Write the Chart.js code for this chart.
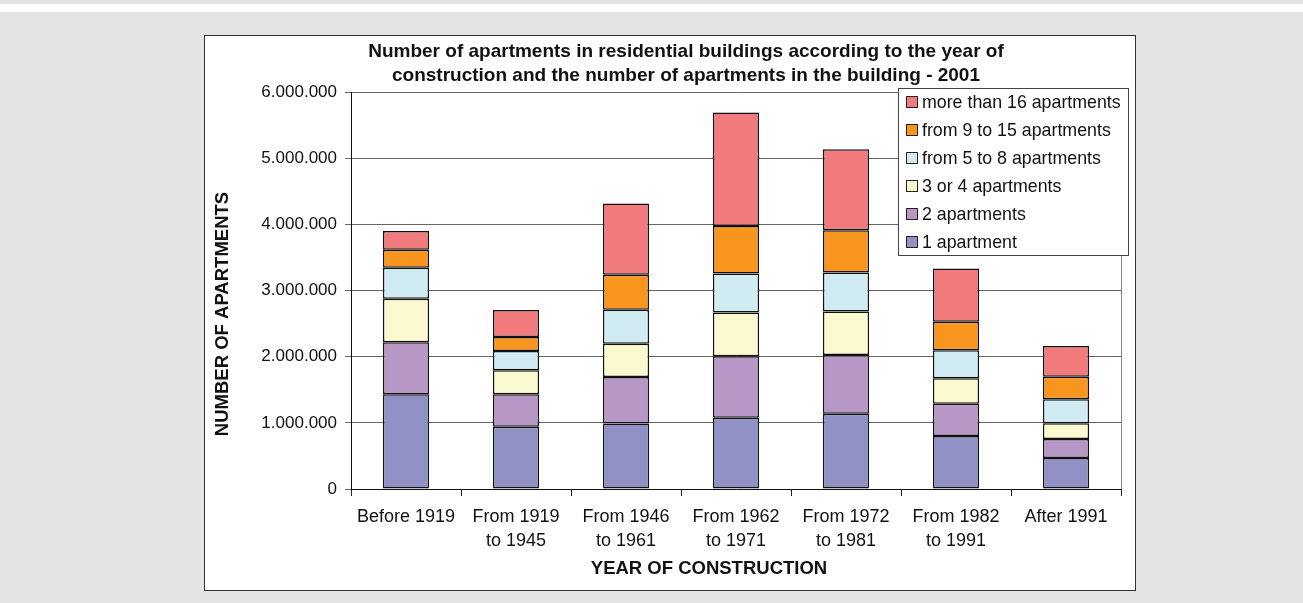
<!DOCTYPE html>
<html>
<head>
<meta charset="utf-8">
<script src="https://cdn.jsdelivr.net/npm/chart.js@4"></script>
<style>
  html, body { margin: 0; padding: 0; }
  body { width: 1303px; height: 603px; background: #e4e4e4; position: relative; overflow: hidden; }
  .strip { position: absolute; left: 0; top: 4px; width: 1303px; height: 8px; background: #fff; }
  .frame { position: absolute; left: 204px; top: 35px; width: 930px; height: 554px; background: #fff; border: 1px solid #333; }
  #apartmentsChart { position: absolute; left: 0; top: 0; }
</style>
</head>
<body>
<div class="strip"></div>
<div class="frame"></div>
<canvas id="apartmentsChart" width="1303" height="603"></canvas>
<script>
// periods of construction
const periods = [
  'Before 1919',
  ['From 1919', 'to 1945'],
  ['From 1946', 'to 1961'],
  ['From 1962', 'to 1971'],
  ['From 1972', 'to 1981'],
  ['From 1982', 'to 1991'],
  'After 1991'
];

// apartments by size of the building
const oneApartment    = [1433000,  942000,  991000, 1076000, 1136000,  802000, 469000];
const twoApartments   = [ 786000,  491000,  701000,  930000,  890000,  487000, 286000];
const threeOrFour     = [ 658000,  360000,  505000,  661000,  656000,  385000, 240000];
const fiveToEight     = [ 466000,  294000,  511000,  591000,  591000,  422000, 360000];
const nineToFifteen   = [ 274000,  212000,  530000,  718000,  636000,  431000, 341000];
const moreThanSixteen = [ 283000,  406000, 1076000, 1716000, 1227000,  806000, 465000];

const yTicks = [0, 1000000, 2000000, 3000000, 4000000, 5000000, 6000000];

const chartTitle = [
  'Number of apartments in residential buildings according to the year of',
  'construction and the number of apartments in the building - 2001'
];
const xTitle = 'YEAR OF CONSTRUCTION';
const yTitle = 'NUMBER OF APARTMENTS';

const FONT = "'Liberation Sans', Arial, sans-serif";

function dotted(n) {
  return String(n).replace(/\B(?=(\d{3})+(?!\d))/g, '.');
}

// main title and both axis titles
const titles = {
  id: 'titles',
  afterDraw(chart) {
    const ctx = chart.ctx;
    ctx.save();
    ctx.fillStyle = '#111';
    ctx.textAlign = 'center';
    ctx.textBaseline = 'middle';
    ctx.font = 'bold 19px ' + FONT;
    chartTitle.forEach((line, i) => ctx.fillText(line, 686, 52 + i * 24));
    ctx.font = 'bold 18.5px ' + FONT;
    ctx.fillText(xTitle, 709, 569);
    ctx.translate(223, 314);
    ctx.rotate(-Math.PI / 2);
    ctx.fillText(yTitle, 0, 0);
    ctx.restore();
  }
};

// legend drawn inside the plot, top right, last series first
const boxLegend = {
  id: 'boxLegend',
  afterDraw(chart) {
    const ctx = chart.ctx;
    const x = 898.5, y = 88.5, w = 230, h = 167;
    ctx.save();
    ctx.fillStyle = '#fff';
    ctx.fillRect(x, y, w, h);
    ctx.strokeStyle = '#444';
    ctx.lineWidth = 1;
    ctx.strokeRect(x, y, w, h);
    ctx.font = '17.8px ' + FONT;
    ctx.textBaseline = 'middle';
    const sets = chart.data.datasets.slice().reverse();
    sets.forEach((ds, i) => {
      const cy = 102 + i * 28;
      ctx.fillStyle = ds.backgroundColor;
      ctx.fillRect(906.5, cy - 5.5, 11, 11);
      ctx.strokeStyle = '#222';
      ctx.strokeRect(906.5, cy - 5.5, 11, 11);
      ctx.fillStyle = '#111';
      ctx.fillText(ds.label, 922, cy + 1);
    });
    ctx.restore();
  }
};

// thin border on the right side of the plot
const plotEdge = {
  id: 'plotEdge',
  beforeDatasetsDraw(chart) {
    const { ctx, chartArea } = chart;
    ctx.save();
    ctx.strokeStyle = '#888';
    ctx.lineWidth = 1;
    ctx.beginPath();
    ctx.moveTo(Math.round(chartArea.right) + 0.5, chartArea.top);
    ctx.lineTo(Math.round(chartArea.right) + 0.5, chartArea.bottom);
    ctx.stroke();
    ctx.restore();
  }
};

function series(label, data, color) {
  return {
    label: label,
    data: data,
    backgroundColor: color,
    borderColor: '#111',
    borderWidth: 1.5,
    borderSkipped: false,
    barPercentage: 0.42,
    categoryPercentage: 1
  };
}

const ctx = document.getElementById('apartmentsChart').getContext('2d');
new Chart(ctx, {
  type: 'bar',
  data: {
    labels: periods,
    datasets: [
      series('1 apartment', oneApartment, 'rgb(145, 145, 198)'),
      series('2 apartments', twoApartments, 'rgb(183, 151, 197)'),
      series('3 or 4 apartments', threeOrFour, 'rgb(251, 249, 207)'),
      series('from 5 to 8 apartments', fiveToEight, 'rgb(208, 236, 242)'),
      series('from 9 to 15 apartments', nineToFifteen, 'rgb(247, 149, 31)'),
      series('more than 16 apartments', moreThanSixteen, 'rgb(241, 122, 124)')
    ]
  },
  options: {
    responsive: false,
    animation: false,
    devicePixelRatio: 1,
    layout: { padding: { left: 205, right: 182, top: 92, bottom: 13 } },
    plugins: {
      legend: { display: false },
      tooltip: { enabled: false },
      title: { display: false }
    },
    scales: {
      x: {
        stacked: true,
        grid: { offset: true, drawOnChartArea: false, drawTicks: true, tickLength: 7, color: '#222' },
        border: { color: '#111', width: 1 },
        ticks: { color: '#111', padding: 9, maxRotation: 0, autoSkip: false,
                 font: { family: FONT, size: 18, lineHeight: '24px' } },
        afterFit(scale) { scale.height = 101; }
      },
      y: {
        stacked: true,
        min: 0,
        max: 6000000,
        afterBuildTicks(scale) { scale.ticks = yTicks.map(v => ({ value: v })); },
        grid: { color: '#666', lineWidth: 1, tickLength: 6 },
        border: { color: '#111', width: 1 },
        ticks: { color: '#111', padding: 8, callback: v => dotted(v),
                 font: { family: FONT, size: 17 } },
        afterFit(scale) { scale.width = 146; }
      }
    }
  },
  plugins: [plotEdge, titles, boxLegend]
});
</script>
</body>
</html>
